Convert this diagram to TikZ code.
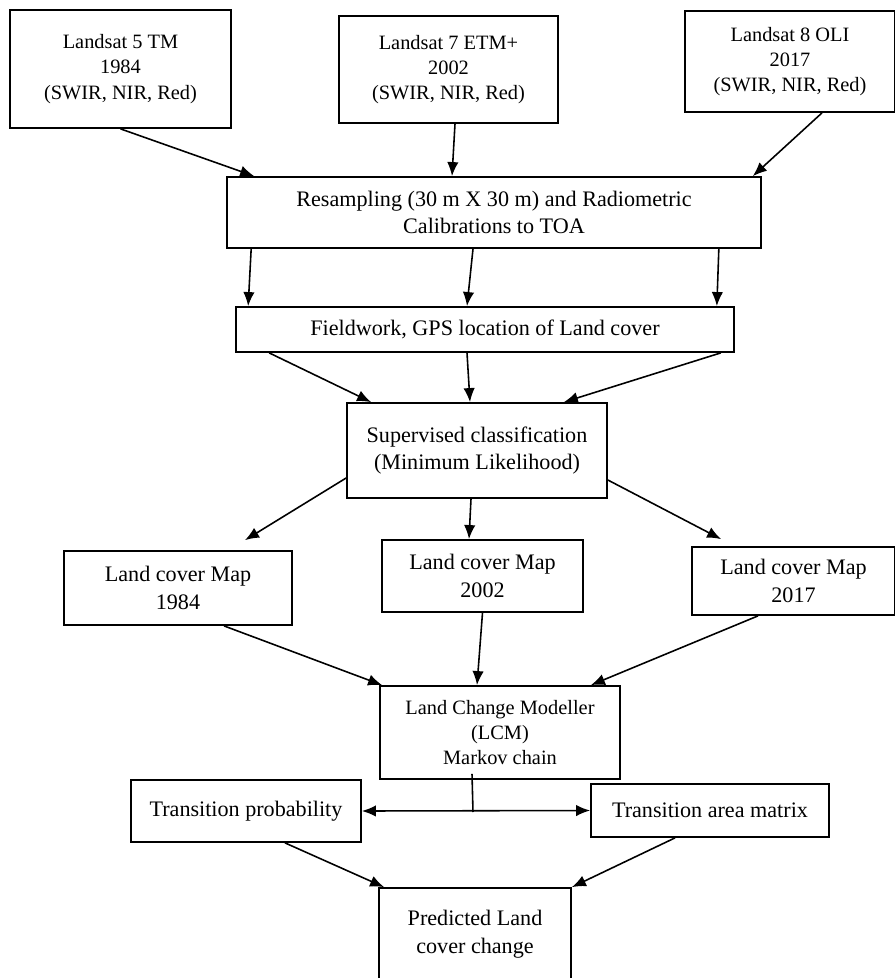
\documentclass[tikz,border=0pt]{standalone}
\usepackage{fontspec}
\setmainfont{Liberation Serif}
\usetikzlibrary{arrows.meta}

\tikzset{
  box/.style={draw, line width=1pt, align=center, inner sep=0pt},
  smalltext/.style={font=\fontsize{11.6}{14.4}\selectfont},
  bigtext/.style={font=\fontsize{12.6}{15.6}\selectfont},
  tip/.style={-{Latex[length=8pt,width=6.5pt]}},
  flow/.style={line width=0.9pt, tip},
}

\begin{document}
\begin{tikzpicture}[x=0.02cm, y=-0.02cm]
  \clip (0,0) rectangle (895,978);
  \fill[white] (0,0) rectangle (895,978);

  \node[box, smalltext, minimum width=4.42cm, minimum height=2.36cm] (l5) at (120.5,69) {Landsat 5 TM\\1984\\(SWIR, NIR, Red)};
  \node[box, smalltext, minimum width=4.38cm, minimum height=2.14cm] (l7) at (448.5,69.5) {\raisebox{3pt}{\begin{tabular}{@{}c@{}}Landsat 7 ETM+\\2002\\(SWIR, NIR, Red)\end{tabular}}};
  \node[box, smalltext, minimum width=4.2cm, minimum height=2.02cm] (l8) at (790,61.5) {Landsat 8 OLI\\2017\\(SWIR, NIR, Red)};

  \node[box, bigtext, minimum width=10.68cm, minimum height=1.42cm] (res) at (494,212.5) {Resampling (30 m X 30 m) and Radiometric\\Calibrations to TOA};
  \node[box, bigtext, minimum width=9.96cm, minimum height=0.9cm] (field) at (485,329.5) {Fieldwork, GPS location of Land cover};
  \node[box, bigtext, minimum width=5.2cm, minimum height=1.9cm] (sup) at (477,450.5) {Supervised classification\\(Minimum Likelihood)};

  \node[box, bigtext, minimum width=4.56cm, minimum height=1.48cm] (m84) at (178,588) {Land cover Map\\1984};
  \node[box, bigtext, minimum width=4.02cm, minimum height=1.44cm] (m02) at (482.5,576) {Land cover Map\\2002};
  \node[box, bigtext, minimum width=4.06cm, minimum height=1.36cm] (m17) at (793.5,581) {Land cover Map\\2017};

  \node[box, smalltext, minimum width=4.8cm, minimum height=1.86cm] (lcm) at (500,732.5) {Land Change Modeller\\(LCM)\\Markov chain};
  \node[box, bigtext, minimum width=4.6cm, minimum height=1.24cm] (tp) at (246,811) {Transition probability};
  \node[box, bigtext, minimum width=4.76cm, minimum height=1.06cm] (ta) at (710,810.5) {Transition area matrix};
  \node[box, bigtext, minimum width=3.84cm, minimum height=1.84cm] (pred) at (475,934) {Predicted Land\\cover change};

  \draw[flow] (l5.south) -- ([xshift=0.56cm]res.north west);
  \draw[flow] ([xshift=0.13cm]l7.south) -- ([xshift=-0.84cm]res.north);
  \draw[flow] ([xshift=0.64cm]l8.south) -- ([xshift=-0.18cm]res.north east);

  \draw[flow] ([xshift=0.5cm]res.south west) -- ([xshift=0.26cm]field.north west);
  \draw[flow] ([xshift=-0.42cm]res.south) -- ([xshift=-0.36cm]field.north);
  \draw[flow] ([xshift=-0.86cm]res.south east) -- ([xshift=-0.36cm]field.north east);

  \draw[flow] ([xshift=0.68cm]field.south west) -- ([xshift=0.5cm]sup.north west);
  \draw[flow] ([xshift=-0.36cm]field.south) -- ([xshift=-0.14cm]sup.north);
  \draw[flow] ([xshift=-0.28cm]field.south east) -- ([xshift=-0.88cm]sup.north east);

  \draw[flow] ([yshift=-0.55cm]sup.west) -- ([xshift=1.34cm,yshift=0.2cm]m84.north);
  \draw[flow] ([xshift=-0.12cm]sup.south) -- ([xshift=-0.27cm]m02.north);
  \draw[flow] ([yshift=-0.59cm]sup.east) -- ([xshift=0.6cm,yshift=0.14cm]m17.north west);

  \draw[flow] ([xshift=0.92cm]m84.south) -- ([xshift=0.06cm]lcm.north west);
  \draw[flow] (m02.south) -- ([xshift=-0.46cm]lcm.north);
  \draw[flow] ([xshift=-0.71cm]m17.south) -- ([xshift=-0.6cm]lcm.north east);

  \coordinate (hub) at (473,812);
  \draw[line width=0.9pt] ([xshift=-0.56cm,yshift=0.12cm]lcm.south) -- (hub);
  \draw[flow, {Latex[length=8pt,width=6.5pt]}-{Latex[length=8pt,width=6.5pt]}] (tp.east) -- (ta.west);

  \draw[flow] ([xshift=0.78cm]tp.south) -- ([xshift=0.12cm]pred.north west);
  \draw[flow] ([xshift=-0.7cm]ta.south) -- (pred.north east);
\end{tikzpicture}
\end{document}
